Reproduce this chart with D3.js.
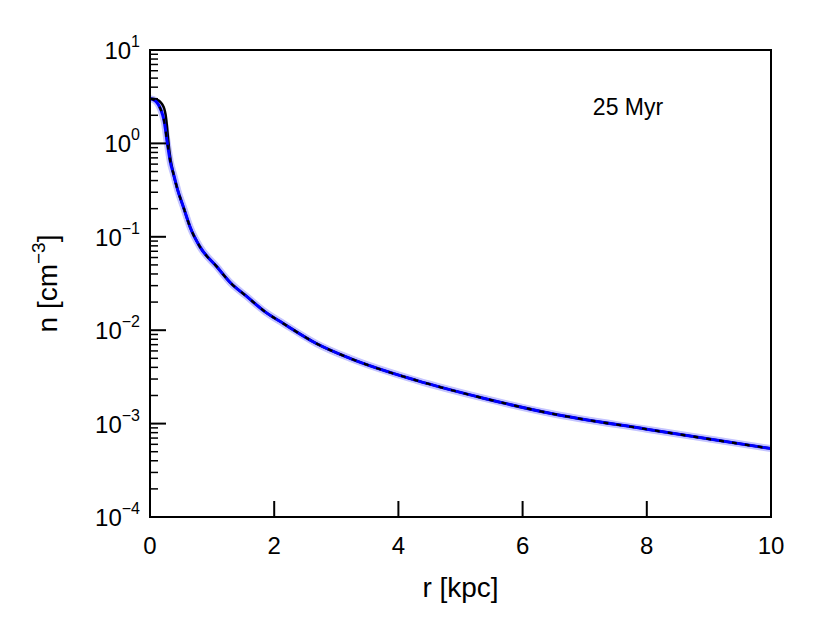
<!DOCTYPE html><html><head><meta charset="utf-8">
<script src="https://cdn.jsdelivr.net/npm/d3@7"></script>
<style>body{margin:0;background:#fff}text{font-family:"Liberation Sans",Arial,sans-serif}</style></head><body>
<svg id="c" width="830" height="623"></svg>
<script>
const rBlack=[0,0.05,0.1,0.15,0.2,0.23,0.25,0.27,0.29,0.31,0.33,0.375,0.45,0.536,0.65,0.805,1.074,1.3,1.557,1.85,2.147,2.68,3.22,4.29,5.37,6.44,8,10];
const nBlack=[3.0,3.0,2.95,2.85,2.6,2.35,2.05,1.6,1.15,0.85,0.68,0.48,0.31,0.21,0.125,0.078,0.048,0.032,0.023,0.0158,0.0118,0.0072,0.005,0.0029,0.00187,0.00129,0.00087,0.00054];
const rBlue=[0,0.05,0.1,0.15,0.2,0.23,0.25,0.27,0.29,0.31,0.33,0.375,0.45,0.536,0.65,0.805,1.074,1.3,1.557,1.85,2.147,2.68,3.22,4.29,5.37,6.44,8,10];
const nBlue=[3.0,2.95,2.8,2.5,2.05,1.7,1.4,1.1,0.9,0.74,0.62,0.48,0.31,0.21,0.125,0.078,0.048,0.032,0.023,0.0158,0.0118,0.0072,0.005,0.0029,0.00187,0.00129,0.00087,0.00054];
const xTicks=[0,2,4,6,8,10];
const yExps=[1,0,-1,-2,-3,-4];
const svg=d3.select("#c");
const L=150,R=771,T=50,B=517;
const x=d3.scaleLinear().domain([0,10]).range([L,R]);
const y=d3.scaleLog().domain([1e-4,10]).range([B,T]);
const g=svg.append("g");
g.append("defs").append("clipPath").attr("id","cp").append("rect").attr("x",L).attr("y",T).attr("width",R-L).attr("height",B-T);
const lineB=d3.line().x((d,i)=>x(rBlack[i])).y(d=>y(d)).curve(d3.curveMonotoneX);
const lineU=d3.line().x((d,i)=>x(rBlue[i])).y(d=>y(d)).curve(d3.curveMonotoneX);
const pg=g.append("g").attr("clip-path","url(#cp)");
pg.append("path").attr("d",lineU(nBlue)).attr("fill","none").attr("stroke","#c4c4ff").attr("stroke-width",7);
pg.append("path").attr("d",lineB(nBlack)).attr("fill","none").attr("stroke","#000").attr("stroke-width",2.5);
pg.append("path").attr("d",lineU(nBlue)).attr("fill","none").attr("stroke","#0000ff").attr("stroke-width",3);
pg.append("path").attr("d",lineU(nBlue)).attr("fill","none").attr("stroke","#000").attr("stroke-width",2.2).attr("stroke-dasharray","5,8");
g.append("rect").attr("x",L).attr("y",T).attr("width",R-L).attr("height",B-T).attr("fill","none").attr("stroke","#000").attr("stroke-width",2);
xTicks.forEach(t=>{
 g.append("line").attr("x1",x(t)).attr("x2",x(t)).attr("y1",B).attr("y2",B-16).attr("stroke","#000").attr("stroke-width",2);
 g.append("text").attr("x",x(t)).attr("y",B+37).attr("text-anchor","middle").attr("font-size",24).text(t);
});
yExps.forEach(e=>{
 const yy=y(Math.pow(10,e));
 g.append("line").attr("x1",L).attr("x2",L+16).attr("y1",yy).attr("y2",yy).attr("stroke","#000").attr("stroke-width",2);
 const t=g.append("text").attr("x",L-10).attr("y",yy+9).attr("text-anchor","end").attr("font-size",24);
 t.append("tspan").text("10");
 t.append("tspan").attr("dy",-12).attr("font-size",16).text(e<0?"−"+(-e):e);
 if(e>-4) for(let k=2;k<=9;k++){const v=k*Math.pow(10,e-1);const yv=y(v);
  g.append("line").attr("x1",L).attr("x2",L+8).attr("y1",yv).attr("y2",yv).attr("stroke","#000").attr("stroke-width",1.5);}
});
g.append("text").attr("x",(L+R)/2).attr("y",597).attr("text-anchor","middle").attr("font-size",28).text("r [kpc]");
const yl=g.append("text").attr("transform","translate(57,"+((T+B)/2)+") rotate(-90)").attr("text-anchor","middle").attr("font-size",28);
yl.append("tspan").text("n [cm");
yl.append("tspan").attr("dy",-12).attr("font-size",19).text("−3");
yl.append("tspan").attr("dy",12).text("]");
g.append("text").attr("x",628).attr("y",115).attr("text-anchor","middle").attr("font-size",23).text("25 Myr");
</script></body></html>
